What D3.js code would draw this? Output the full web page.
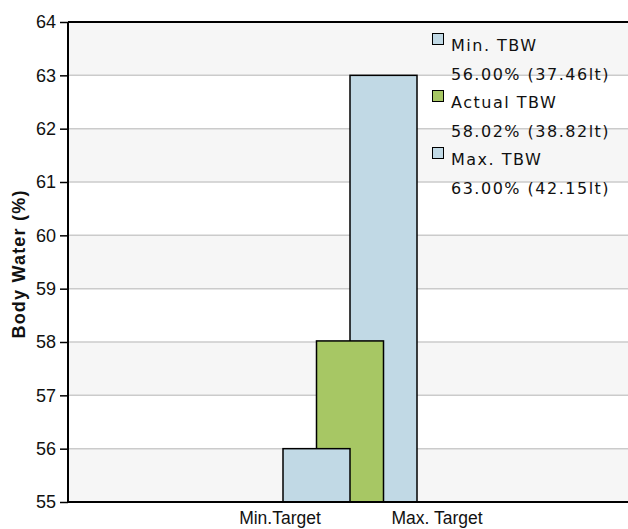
<!DOCTYPE html>
<html>
<head>
<meta charset="utf-8">
<script src="https://cdn.jsdelivr.net/npm/d3@7"></script>
<style>
  body { margin: 0; background: #fff; }
  svg { display: block; }
</style>
</head>
<body>
<svg id="chart" width="628" height="529"></svg>
<script>
// chart data
const categories = ["Min.Target", "Max. Target"];
const seriesNames = ["Min. TBW", "Actual TBW", "Max. TBW"];
const seriesValues = [56.00, 58.02, 63.00];
const seriesLitres = ["37.46lt", "38.82lt", "42.15lt"];
const seriesColors = ["#c1d9e5", "#a7c764", "#c1d9e5"];
const yTicks = [55, 56, 57, 58, 59, 60, 61, 62, 63, 64];

const svg = d3.select("#chart");
const plotL = 68, plotR = 640, plotT = 22, plotB = 502;

const y = d3.scaleLinear().domain([55, 64]).range([plotB, plotT]);
const xCat = d3.scalePoint().domain(categories).range([280, 437]);
// bars overlap: each one shifted by half a bar width
const barW = 67;
const xBar = d3.scaleLinear().domain([0, 2]).range([283, 350]);

// alternating bands
svg.append("g")
  .selectAll("rect")
  .data(yTicks.slice(0, -1).filter((d) => (d - 55) % 2 === 0))
  .join("rect")
  .attr("x", plotL)
  .attr("width", plotR - plotL)
  .attr("y", (d) => y(d + 1))
  .attr("height", (d) => y(d) - y(d + 1))
  .attr("fill", "#f6f6f6");

// gridlines
svg.append("g")
  .selectAll("line")
  .data(yTicks.slice(1, -1))
  .join("line")
  .attr("x1", plotL)
  .attr("x2", plotR)
  .attr("y1", (d) => y(d))
  .attr("y2", (d) => y(d))
  .attr("stroke", "#cbcbcb")
  .attr("stroke-width", 1.5);

// legend
const lg = svg.append("g");
seriesNames.forEach((name, i) => {
  const y0 = 51 + i * 57;
  lg.append("rect")
    .attr("x", 432.5).attr("y", y0 - 17.5)
    .attr("width", 11).attr("height", 11)
    .attr("fill", seriesColors[i])
    .attr("stroke", "#000").attr("stroke-width", 1);
  lg.append("text")
    .attr("x", 451).attr("y", y0)
    .text(name);
  lg.append("text")
    .attr("x", 451).attr("y", y0 + 29)
    .text(seriesValues[i].toFixed(2) + "% (" + seriesLitres[i] + ")");
});
lg.selectAll("text")
  .attr("font-family", "DejaVu Sans, Verdana, sans-serif")
  .attr("font-size", 16)
  .attr("letter-spacing", 1.5)
  .attr("fill", "#111");

// bars: max first, then actual, then min on top
const order = [2, 1, 0];
svg.append("g")
  .selectAll("rect")
  .data(order)
  .join("rect")
  .attr("x", (i) => xBar(i))
  .attr("width", barW)
  .attr("y", (i) => y(seriesValues[i]))
  .attr("height", (i) => y(55) - y(seriesValues[i]))
  .attr("fill", (i) => seriesColors[i])
  .attr("stroke", "#000")
  .attr("stroke-width", 1.5);

// axes
const yAxis = svg.append("g")
  .attr("transform", `translate(${plotL},0)`)
  .call(d3.axisLeft(y).tickValues(yTicks).tickSize(8).tickPadding(4));
yAxis.select(".domain").remove();
yAxis.selectAll("line").attr("stroke", "#000").attr("stroke-width", 1.5);
yAxis.selectAll("text")
  .attr("font-family", "Liberation Sans, Arial, sans-serif")
  .attr("font-size", 18)
  .attr("fill", "#111");

svg.append("line")
  .attr("x1", plotL).attr("x2", plotL)
  .attr("y1", plotT).attr("y2", plotB)
  .attr("stroke", "#000").attr("stroke-width", 2);
svg.append("line")
  .attr("x1", plotL).attr("x2", plotR)
  .attr("y1", plotT).attr("y2", plotT)
  .attr("stroke", "#000").attr("stroke-width", 2);
svg.append("line")
  .attr("x1", plotL).attr("x2", plotR)
  .attr("y1", plotB).attr("y2", plotB)
  .attr("stroke", "#000").attr("stroke-width", 2);

svg.append("g")
  .selectAll("text")
  .data(categories)
  .join("text")
  .attr("x", (d) => xCat(d))
  .attr("y", 524)
  .attr("text-anchor", "middle")
  .attr("font-family", "Liberation Sans, Arial, sans-serif")
  .attr("font-size", 17.5)
  .attr("fill", "#111")
  .text((d) => d);

svg.append("text")
  .attr("transform", "translate(25,264) rotate(-90)")
  .attr("text-anchor", "middle")
  .attr("font-family", "Liberation Sans, Arial, sans-serif")
  .attr("font-size", 18)
  .attr("letter-spacing", 1.2)
  .attr("font-weight", "bold")
  .attr("fill", "#111")
  .text("Body Water (%)");
</script>
</body>
</html>
